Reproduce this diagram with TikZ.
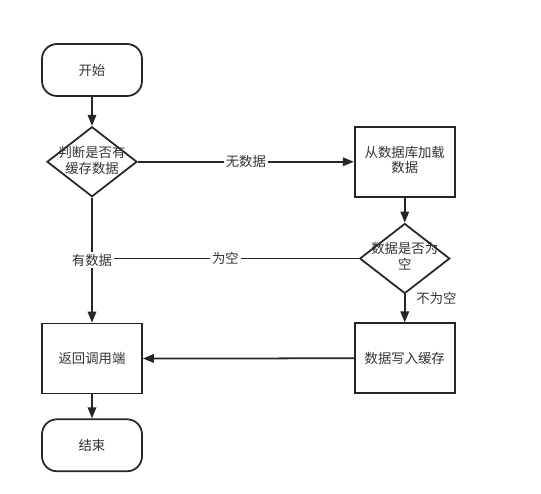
\documentclass[tikz,border=0pt]{standalone}
\usepackage{fontspec}
\setmainfont{Noto Sans CJK SC}
\usepackage{tikz}
\usetikzlibrary{shapes.geometric, arrows.meta, positioning}
\tikzstyle{startstop} = [rectangle, rounded corners=0.3cm, minimum width=2cm, minimum height=1.04cm, text centered, draw=black!85, line width=1pt, text=black!80]
\tikzstyle{process} = [rectangle, minimum width=2cm, minimum height=1.4cm, text centered, draw=black!85, line width=1pt, text=black!80]
\tikzstyle{decision} = [diamond, minimum width=1.8cm, minimum height=1.4cm, inner sep=0pt, text centered, draw=black!85, line width=1pt, text=black!80]
\tikzstyle{arrow} = [line width=1pt, draw=black!85, ->, >={Triangle[length=2.2mm, width=1.7mm]}]
\tikzstyle{line} = [line width=1pt, draw=black!85]
\tikzstyle{edgelabel} = [fill=white, inner sep=1pt, text=black!80]
\newcommand{\narrowtext}[1]{\makebox[0pt]{\begin{tabular}{@{}c@{}}#1\end{tabular}}}

\begin{document}
\begin{tikzpicture}[font=\fontsize{7.6pt}{9pt}\selectfont]
	\useasboundingbox (0,0) rectangle (10.82,-9.86);
	\node(start) [startstop] at (1.84,-1.40) {开始};
	\node(check_cache) [decision, below=0.58cm of start] {\narrowtext{判断是否有\\缓存数据}};
	\node(load_db) [process, right=4.32cm of check_cache] {\begin{tabular}{@{}c@{}}从数据库加载\\数据\end{tabular}};
	\node(is_empty) [decision, below=0.5cm of load_db] {\narrowtext{数据是否为\\空}};
	\node(write_cache) [process, below=0.56cm of is_empty] {数据写入缓存};
	\node(return_caller) [process, below=2.5cm of check_cache] {返回调用端};
	\node(end) [startstop, below=0.48cm of return_caller] {结束};
	\coordinate(join) at (check_cache |- is_empty);
	
	\draw[arrow] (start) -- (check_cache);
	\draw[arrow] (check_cache) -- node[edgelabel] {无数据} (load_db);
	\draw[arrow] (load_db) -- (is_empty);
	\draw[line] (is_empty.west) -- node[edgelabel] {为空} (join);
	\draw[arrow] (check_cache) -- node[edgelabel] {有数据} (return_caller);
	\draw[arrow] (is_empty) -- node[pos=0.15, anchor=west, xshift=0.1cm, text=black!80] {不为空} (write_cache);
	\draw[arrow] (write_cache) -- (return_caller);
	\draw[arrow] (return_caller) -- (end);
\end{tikzpicture}
\end{document}
